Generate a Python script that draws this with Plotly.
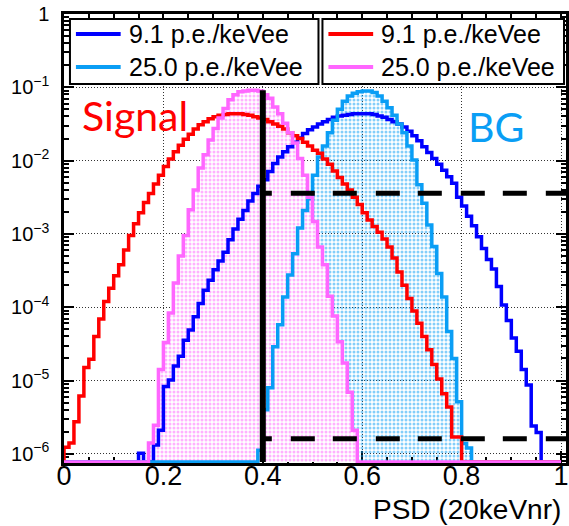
import numpy as np
import plotly.graph_objects as go

# ---------------- PSD distributions (100 bins on [0, 1], unit area) ----------------
psd_lo, psd_hi, n_bins = 0.0, 1.0, 100

# background, 9.1 p.e./keVee
bg_91 = [
    0, 0, 0, 0, 0, 0, 0, 0, 0, 0,
    0, 0, 0, 0, 0, 1.02e-6, 0, 0, 1.32e-6, 2.09e-6,
    8.32e-6, 1.02e-5, 1.58e-5, 2.14e-5, 3.55e-5, 4.90e-5, 7.41e-5, 1.12e-4, 1.70e-4, 2.34e-4,
    3.24e-4, 4.27e-4, 5.62e-4, 8.32e-4, 1.17e-3, 1.58e-3, 2.09e-3, 2.82e-3, 3.55e-3, 4.47e-3,
    5.50e-3, 7.08e-3, 9.12e-3, 1.12e-2, 1.32e-2, 1.55e-2, 1.78e-2, 2.04e-2, 2.34e-2, 2.63e-2,
    2.88e-2, 3.16e-2, 3.39e-2, 3.63e-2, 3.89e-2, 4.07e-2, 4.17e-2, 4.27e-2, 4.37e-2, 4.37e-2,
    4.37e-2, 4.37e-2, 4.27e-2, 4.07e-2, 3.89e-2, 3.63e-2, 3.39e-2, 3.16e-2, 2.88e-2, 2.51e-2,
    2.19e-2, 1.86e-2, 1.55e-2, 1.29e-2, 1.07e-2, 8.91e-3, 7.41e-3, 6.03e-3, 4.90e-3, 3.16e-3,
    2.40e-3, 1.74e-3, 1.29e-3, 9.12e-4, 6.31e-4, 4.47e-4, 3.31e-4, 1.91e-4, 1.07e-4, 6.61e-5,
    3.80e-5, 2.51e-5, 1.41e-5, 8.71e-6, 2.40e-6, 1.95e-6, 0, 0, 0, 0,
]

# background, 25.0 p.e./keVee
bg_250 = [
    0, 0, 0, 0, 0, 0, 0, 0, 0, 0,
    0, 0, 0, 0, 0, 0, 0, 0, 0, 0,
    0, 0, 0, 0, 0, 0, 0, 0, 0, 0,
    0, 0, 0, 0, 0, 0, 0, 0, 0, 1.12e-6,
    3.98e-6, 7.94e-6, 2.88e-5, 5.75e-5, 1.38e-4, 2.75e-4, 5.37e-4, 1.20e-3, 2.09e-3, 3.02e-3,
    6.31e-3, 1.12e-2, 1.58e-2, 2.40e-2, 3.55e-2, 5.01e-2, 6.46e-2, 7.59e-2, 8.32e-2, 8.71e-2,
    8.91e-2, 8.91e-2, 8.51e-2, 7.59e-2, 6.46e-2, 5.25e-2, 4.17e-2, 3.16e-2, 2.40e-2, 1.58e-2,
    1.02e-2, 4.68e-3, 2.63e-3, 1.32e-3, 6.76e-4, 2.88e-4, 1.38e-4, 4.68e-5, 2.00e-5, 5.13e-6,
    1.38e-6, 1.20e-6, 0, 0, 0, 0, 0, 0, 0, 0,
    0, 0, 0, 0, 0, 0, 0, 0, 0, 0,
]

# signal, 9.1 p.e./keVee
sig_91 = [
    1.23e-6, 1.41e-6, 2.75e-6, 6.17e-6, 1.51e-5, 1.95e-5, 3.98e-5, 6.92e-5, 1.20e-4, 1.82e-4,
    2.69e-4, 3.80e-4, 6.03e-4, 9.55e-4, 1.38e-3, 1.95e-3, 2.69e-3, 3.55e-3, 4.79e-3, 6.31e-3,
    8.32e-3, 1.05e-2, 1.32e-2, 1.62e-2, 1.95e-2, 2.29e-2, 2.69e-2, 3.09e-2, 3.39e-2, 3.72e-2,
    3.98e-2, 4.17e-2, 4.27e-2, 4.37e-2, 4.37e-2, 4.37e-2, 4.27e-2, 4.17e-2, 3.98e-2, 3.80e-2,
    3.63e-2, 3.39e-2, 3.16e-2, 2.95e-2, 2.69e-2, 2.40e-2, 2.19e-2, 2.00e-2, 1.78e-2, 1.58e-2,
    1.38e-2, 1.26e-2, 1.05e-2, 8.91e-3, 7.24e-3, 5.89e-3, 4.79e-3, 3.98e-3, 3.16e-3, 2.51e-3,
    1.95e-3, 1.55e-3, 1.26e-3, 1.05e-3, 8.51e-4, 6.61e-4, 4.68e-4, 3.02e-4, 2.00e-4, 1.32e-4,
    8.91e-5, 6.03e-5, 3.98e-5, 2.63e-5, 1.66e-5, 1.05e-5, 6.61e-6, 4.37e-6, 1.70e-6, 1.70e-6,
    0, 0, 0, 0, 0, 0, 0, 0, 0, 0,
    0, 0, 0, 0, 0, 0, 0, 0, 0, 0,
]

# signal, 25.0 p.e./keVee
sig_250 = [
    0, 0, 0, 0, 0, 0, 0, 0, 0, 0,
    0, 0, 0, 0, 0, 0, 0, 1.41e-6, 2.45e-6, 1.41e-5,
    3.31e-5, 8.32e-5, 2.14e-4, 5.01e-4, 9.55e-4, 2.14e-3, 3.98e-3, 7.94e-3, 1.20e-2, 1.91e-2,
    2.75e-2, 3.80e-2, 5.13e-2, 6.76e-2, 7.94e-2, 8.71e-2, 8.91e-2, 9.12e-2, 9.12e-2, 8.91e-2,
    7.94e-2, 7.08e-2, 5.37e-2, 4.37e-2, 3.24e-2, 2.40e-2, 1.74e-2, 1.07e-2, 6.31e-3, 3.16e-3,
    1.48e-3, 6.61e-4, 3.80e-4, 1.41e-4, 7.59e-5, 3.39e-5, 1.74e-5, 6.92e-6, 2.09e-6, 0,
    0, 0, 0, 0, 0, 0, 0, 0, 0, 0,
    0, 0, 0, 0, 0, 0, 0, 0, 0, 0,
    0, 0, 0, 0, 0, 0, 0, 0, 0, 0,
    0, 0, 0, 0, 0, 0, 0, 0, 0, 0,
]

psd_cut = 0.40                 # PSD selection threshold
bg_levels = [3.6e-3, 1.6e-6]   # background leakage levels above the cut

label_91 = "9.1 p.e./keVee"
label_250 = "25.0 p.e./keVee"

# ---------------- styling ----------------
C_BLUE = "#0000ff"
C_AZURE = "#0a9ef5"
C_RED = "#ff0000"
C_PINK = "#ff66ff"

X_MAX = 1.01
LOG_MIN, LOG_MAX = -6.125, 0.0
floor = 10 ** (LOG_MIN + 0.014)   # empty bins are drawn along the frame bottom

edges = np.linspace(psd_lo, psd_hi, n_bins + 1)


def step_path(values):
    """Closed step outline of a histogram; empty bins sit on the frame floor."""
    v = [val if val > 0 else floor for val in values]
    xs = [edges[0]] + list(edges[:-1]) + [edges[-1]]
    ys = [floor] + v + [floor]
    return xs, ys


fig = go.Figure()

# dotted fills for the high light-yield distributions
for vals, col, bg in [(bg_250, C_AZURE, "rgba(0,0,0,0)"), (sig_250, C_PINK, "white")]:
    xs, ys = step_path(vals)
    fig.add_trace(go.Scatter(
        x=xs, y=ys, mode="lines", line=dict(width=0, shape="hv"),
        fill="toself", fillcolor="rgba(0,0,0,0)",
        fillpattern=dict(shape=".", fgcolor=col, bgcolor=bg, size=4, solidity=0.45),
        showlegend=False, hoverinfo="skip",
    ))

# histogram outlines
series = [
    (bg_91, C_BLUE, label_91),
    (bg_250, C_AZURE, label_250),
    (sig_91, C_RED, label_91),
    (sig_250, C_PINK, label_250),
]
for vals, col, name in series:
    xs, ys = step_path(vals)
    fig.add_trace(go.Scatter(
        x=xs, y=ys, mode="lines", name=name, showlegend=False,
        line=dict(color=col, width=3.5, shape="hv"),
    ))

# PSD cut and background levels
fig.add_trace(go.Scatter(
    x=[psd_cut, psd_cut], y=[floor, max(sig_250)], mode="lines",
    line=dict(color="black", width=6), showlegend=False, hoverinfo="skip",
))
dash_pattern = "9px,19px," + ",".join(["24px,18px,24px,19px"] * 4)
for lvl in bg_levels:
    fig.add_trace(go.Scatter(
        x=[psd_cut, X_MAX], y=[lvl, lvl], mode="lines",
        line=dict(color="black", width=5, dash=dash_pattern),
        showlegend=False, hoverinfo="skip",
    ))

FONT = "Liberation Sans, Arial, Helvetica, sans-serif"
PLOT_L, PLOT_W, PLOT_T, PLOT_H = 64, 505, 14, 449


def px_x(px):
    return (px - PLOT_L) / PLOT_W


def px_y(py):
    return (PLOT_T + PLOT_H - py) / PLOT_H


# ---------------- two framed legend boxes (BG | Signal) ----------------
shapes = []
annotations = []
legend_boxes = [(70, 320, series[:2]), (324, 567, series[2:])]
row_y = [34, 67]
for left, right, entries in legend_boxes:
    shapes.append(dict(type="rect", xref="paper", yref="paper",
                       x0=px_x(left), x1=px_x(right), y0=px_y(84), y1=px_y(19),
                       line=dict(color="black", width=2), fillcolor="white", layer="above"))
    for (vals, col, name), ry in zip(entries, row_y):
        shapes.append(dict(type="line", xref="paper", yref="paper",
                           x0=px_x(left + 6), x1=px_x(left + 51), y0=px_y(ry), y1=px_y(ry),
                           line=dict(color=col, width=4), layer="above"))
        annotations.append(dict(text=name, xref="paper", yref="paper",
                                x=px_x(left + 57), y=px_y(ry), xanchor="left", yanchor="middle",
                                showarrow=False, font=dict(family=FONT, size=25, color="black")))

annotations += [
    dict(text="Signal", xref="paper", yref="paper", x=px_x(80), y=px_y(116),
         xanchor="left", yanchor="middle", showarrow=False,
         font=dict(family="Lato, sans-serif", size=41, color=C_RED)),
    dict(text="BG", xref="paper", yref="paper", x=px_x(468), y=px_y(127),
         xanchor="left", yanchor="middle", showarrow=False,
         font=dict(family="Lato, sans-serif", size=41, color=C_AZURE)),
    dict(text="PSD (20keVnr)", xref="paper", yref="paper", x=px_x(565), y=px_y(526),
         xanchor="right", yanchor="bottom", showarrow=False, borderpad=0,
         font=dict(family=FONT, size=28, color="black")),
]

decades = [-6, -5, -4, -3, -2, -1, 0]
tick_text = ["10<sup>\u22126</sup>", "10<sup>\u22125</sup>", "10<sup>\u22124</sup>",
             "10<sup>\u22123</sup>", "10<sup>\u22122</sup>", "10<sup>\u22121</sup>", "1"]

fig.update_layout(
    width=569, height=526,
    margin=dict(l=PLOT_L, r=0, t=PLOT_T, b=526 - PLOT_T - PLOT_H),
    paper_bgcolor="white", plot_bgcolor="white",
    font=dict(family=FONT, color="black"),
    showlegend=False,
    xaxis=dict(
        range=[0, X_MAX], tick0=0, dtick=0.2,
        showline=True, linecolor="black", linewidth=2.5, mirror="ticks",
        ticks="inside", ticklen=12, tickwidth=1.5, tickcolor="black",
        minor=dict(dtick=0.05, tick0=0, ticks="inside", ticklen=6, tickcolor="black", showgrid=False),
        showgrid=True, gridcolor="#333", gridwidth=1, griddash="1px,2px",
        zeroline=False, layer="below traces",
        tickfont=dict(family=FONT, size=27, color="black"),
        ticklabelstandoff=-13, ticklabeloverflow="allow",
    ),
    yaxis=dict(
        type="log", range=[LOG_MIN, LOG_MAX],
        tickmode="array", tickvals=[10 ** d for d in decades], ticktext=tick_text,
        showline=True, linecolor="black", linewidth=2.5, mirror="ticks",
        ticks="inside", ticklen=10, tickwidth=1.5, tickcolor="black",
        minor=dict(dtick="D1", ticks="inside", ticklen=5, tickcolor="black", showgrid=False),
        showgrid=True, gridcolor="#333", gridwidth=1, griddash="1px,2px",
        zeroline=False, layer="below traces",
        tickfont=dict(family=FONT, size=20, color="black"),
        ticklabelstandoff=8,
    ),
    shapes=shapes,
    annotations=annotations,
)

fig.write_html("out.html")
